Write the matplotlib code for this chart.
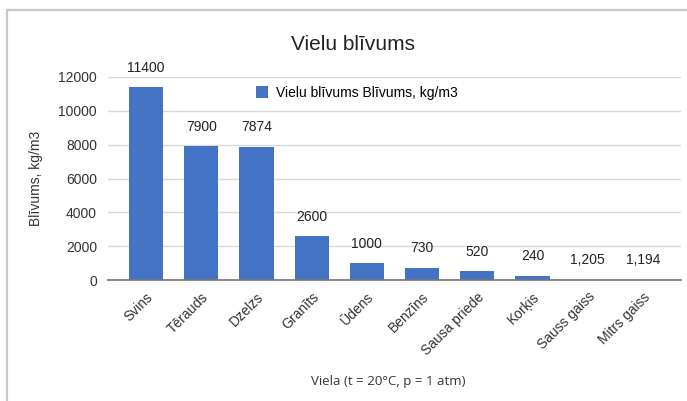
import matplotlib.pyplot as plt
from matplotlib.patches import Rectangle

plt.rcParams['font.family'] = ['Liberation Sans', 'DejaVu Sans']

vielas = ["Svins", "Tērauds", "Dzelzs", "Granīts", "Ūdens", "Benzīns",
          "Sausa priede", "Korķis", "Sauss gaiss", "Mitrs gaiss"]
blivums = [11400, 7900, 7874, 2600, 1000, 730, 520, 240, 1.205, 1.194]

fig = plt.figure(figsize=(6.87, 4.01), dpi=100)
ax = fig.add_axes([0.1572, 0.3017, 0.8341, 0.5063])

# outer chart frame
fig.patches.append(Rectangle((7 / 687, -0.1), 1.2, 1 - 10 / 401 + 0.1,
                             transform=fig.transFigure, fill=False,
                             edgecolor="#c8c8c8", linewidth=1.6))

x = range(len(vielas))
bars = ax.bar(x, blivums, width=0.62, color="#4472C4",
              label="Vielu blīvums Blīvums, kg/m3", zorder=3)

for b, v in zip(bars, blivums):
    txt = f"{v:g}".replace(".", ",")
    ax.annotate(txt, (b.get_x() + b.get_width() / 2, b.get_height()),
                xytext=(0, 9), textcoords="offset points",
                ha="center", va="bottom", fontsize=10, color="#222222")

ax.set_xlim(-0.69, len(vielas) - 1 + 0.69)
ax.set_ylim(0, 12000)
ax.set_yticks(range(0, 12001, 2000))
ax.set_xticks(list(x))
ax.set_xticklabels(vielas, rotation=45, ha="right", rotation_mode="anchor",
                   fontsize=10, color="#333333")
ax.tick_params(axis="y", labelsize=10, labelcolor="#333333", length=0, pad=8)
ax.tick_params(axis="x", length=0, pad=7)

ax.grid(axis="y", color="#d9d9d9", linewidth=1, zorder=0)
for s in ["top", "right", "left"]:
    ax.spines[s].set_visible(False)
ax.spines["bottom"].set_color("#777777")
ax.spines["bottom"].set_linewidth(1.2)
ax.spines["bottom"].set_zorder(4)

ax.set_ylabel("Blīvums, kg/m3", fontsize=10, color="#333333", labelpad=11)
fig.text(388 / 687, 1 - 381 / 401, "Viela (t = 20°C, p = 1 atm)",
         ha="center", va="center", fontsize=9.5, color="#333333",
         family=["Open Sans", "DejaVu Sans"])
fig.text(353 / 687, 1 - 45 / 401, "Vielu blīvums", ha="center",
         va="center", fontsize=15, color="#222222")

fig.legend(loc="center left", bbox_to_anchor=(250 / 687, 1 - 93 / 401),
           frameon=False, fontsize=10, handlelength=0.9, handleheight=0.9,
           handletextpad=0.6, borderaxespad=0)

plt.savefig("out.png", dpi=100)
